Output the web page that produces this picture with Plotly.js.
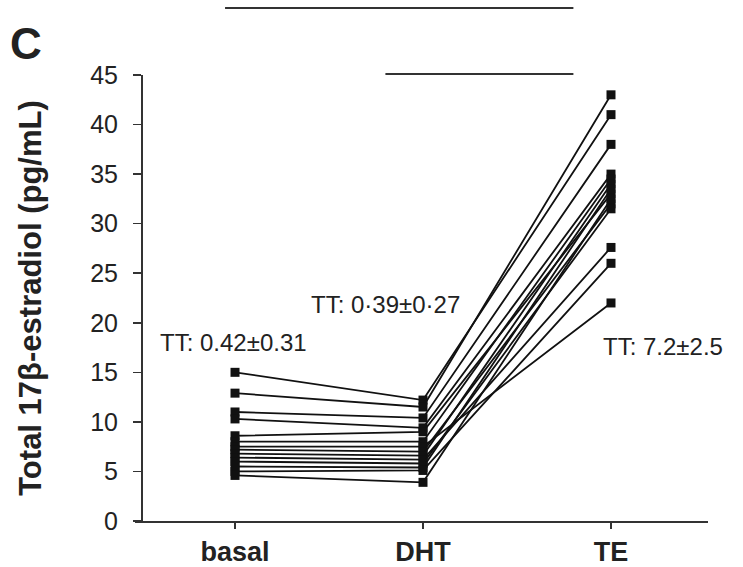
<!DOCTYPE html>
<html>
<head>
<meta charset="utf-8">
<script src="https://cdn.plot.ly/plotly-3.0.1.min.js"></script>
<style>html,body{margin:0;padding:0;background:#fff}#chart{width:743px;height:567px}</style>
</head>
<body>
<div id="chart"></div>
<script>
// Conditions (categories)
var conditions = ["basal", "DHT", "TE"];
// Per-subject total 17β-estradiol (pg/mL)
var basal = [15.0, 12.9, 11.0, 10.3, 8.6, 8.0, 7.5, 7.2, 6.8, 6.4, 6.0, 5.5, 5.0, 4.6];
var dht   = [12.2, 11.5, 10.4, 9.4, 9.0, 8.0, 7.5, 7.0, 6.6, 6.2, 5.8, 5.4, 5.1, 3.9];
var te    = [41.0, 43.0, 38.0, 35.0, 33.0, 34.5, 22.0, 32.0, 34.0, 27.6, 31.5, 33.5, 26.0, 32.5];
// Group summary labels
var summaryText = ["TT: 0.42±0.31", "TT: 0·39±0·27", "TT: 7.2±2.5"];
var yTicks = [0, 5, 10, 15, 20, 25, 30, 35, 40, 45];

var traces = [];
for (var i = 0; i < basal.length; i++) {
  traces.push({
    x: conditions,
    y: [basal[i], dht[i], te[i]],
    type: "scatter",
    mode: "lines+markers",
    line: {color: "#111", width: 1.8},
    marker: {symbol: "square", size: 9, color: "#111"},
    showlegend: false,
    hoverinfo: "y",
    cliponaxis: false
  });
}

var font = "Liberation Sans, Arial, sans-serif";
var layout = {
  width: 743, height: 567,
  margin: {l: 135, r: 35, t: 75, b: 46},
  paper_bgcolor: "#fff", plot_bgcolor: "#fff",
  font: {family: font, color: "#222"},
  xaxis: {
    type: "category",
    range: [-0.532, 2.516],
    showgrid: false, zeroline: false,
    showline: true, linecolor: "#333", linewidth: 1.5,
    ticks: "outside", ticklen: 6, tickwidth: 1.5, tickcolor: "#333",
    tickfont: {family: font, size: 27, color: "#222", weight: "bold"}
  },
  yaxis: {
    range: [0, 45],
    anchor: "free", position: 0.0105,
    tickvals: yTicks,
    showgrid: false, zeroline: false,
    showline: true, linecolor: "#333", linewidth: 1.5,
    ticks: "outside", ticklen: 8, tickwidth: 1.5, tickcolor: "#333",
    ticklabelstandoff: 10,
    tickfont: {family: font, size: 25, color: "#222"},
    title: {text: "Total 17β-estradiol (pg/mL)", standoff: 38,
            font: {family: font, size: 31, color: "#222", weight: "bold"}}
  },
  shapes: [
    {type: "line", xref: "x", yref: "paper", x0: -0.053, x1: 1.80, y0: 1.150, y1: 1.150,
     line: {color: "#333", width: 2}},
    {type: "line", xref: "x", yref: "paper", x0: 0.80, x1: 1.80, y0: 1.002, y1: 1.002,
     line: {color: "#333", width: 2}}
  ],
  annotations: [
    {text: "C", xref: "paper", yref: "paper", x: -0.222, y: 1.07, xanchor: "left", yanchor: "middle",
     showarrow: false, font: {family: font, size: 44, color: "#222", weight: "bold"}},
    {text: summaryText[0], xref: "x", yref: "y", x: -0.01, y: 18.0, xanchor: "center", yanchor: "middle",
     showarrow: false, font: {family: font, size: 24, color: "#222"}},
    {text: summaryText[1], xref: "x", yref: "y", x: 0.80, y: 21.8, xanchor: "center", yanchor: "middle",
     showarrow: false, font: {family: font, size: 24, color: "#222"}},
    {text: summaryText[2], xref: "x", yref: "y", x: 1.945, y: 17.6, xanchor: "left", yanchor: "middle",
     showarrow: false, font: {family: font, size: 24, color: "#222"}}
  ]
};

Plotly.newPlot("chart", traces, layout, {displayModeBar: false, staticPlot: true});
</script>
</body>
</html>
